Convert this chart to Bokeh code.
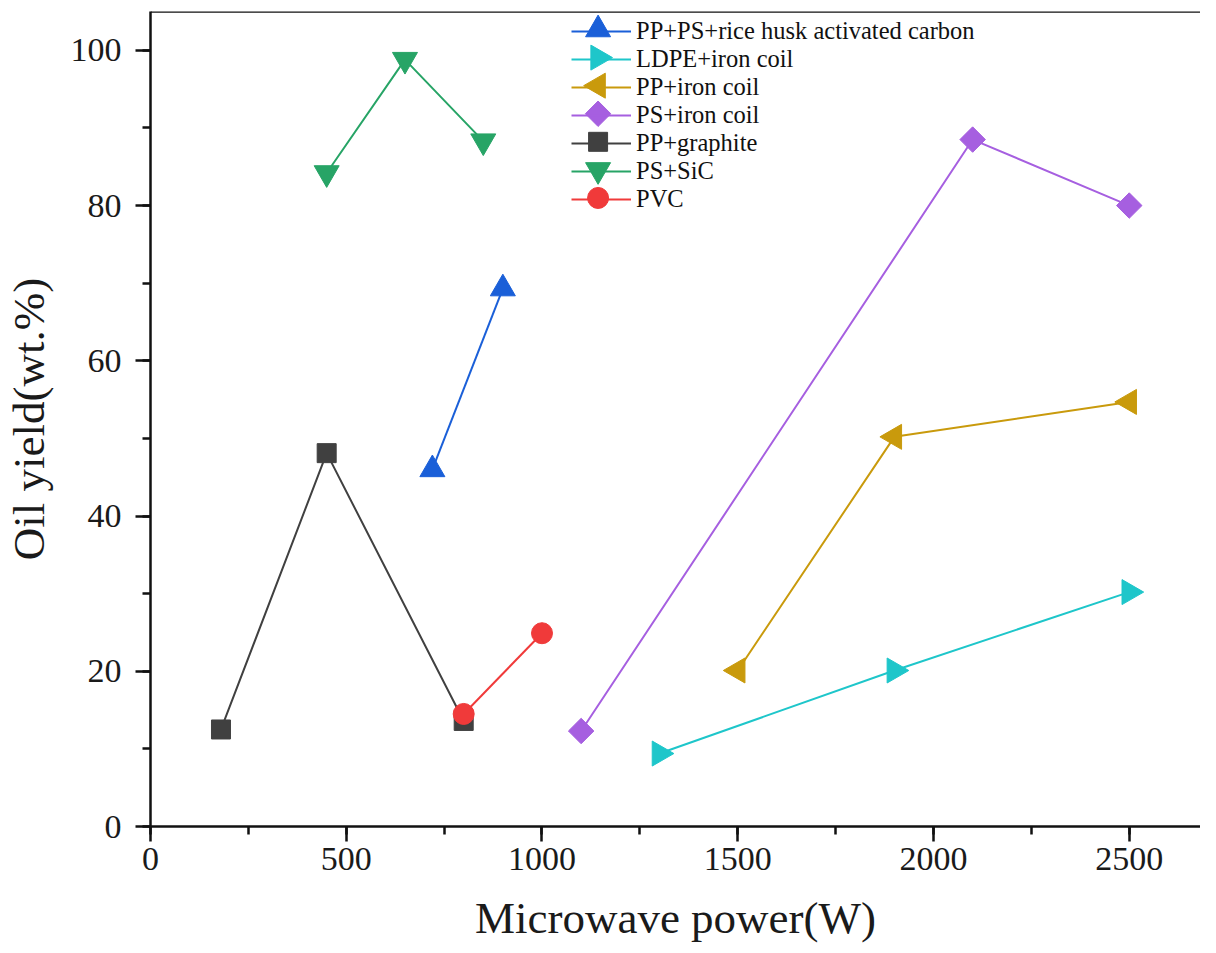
import numpy as np
from bokeh.plotting import figure
from bokeh.models import Range1d, Legend, LegendItem, Span
from bokeh.embed import file_html
from bokeh.resources import INLINE

# ---- data ----
names = ["PP+PS+rice husk activated carbon", "LDPE+iron coil", "PP+iron coil",
         "PS+iron coil", "PP+graphite", "PS+SiC", "PVC"]

rha_x = [720, 900]
rha_y = [46.0, 69.3]

ldpe_x = [1300, 1900, 2500]
ldpe_y = [9.4, 20.1, 30.2]

ppfe_x = [1500, 1900, 2500]
ppfe_y = [20.1, 50.2, 54.7]

psfe_x = [1100, 2100, 2500]
psfe_y = [12.3, 88.5, 80.0]

ppg_x = [180, 450, 800]
ppg_y = [12.5, 48.1, 13.6]

pssic_x = [450, 650, 850]
pssic_y = [84.2, 98.8, 88.3]

pvc_x = [800, 1000]
pvc_y = [14.5, 24.9]

series_x = [rha_x, ldpe_x, ppfe_x, psfe_x, ppg_x, pssic_x, pvc_x]
series_y = [rha_y, ldpe_y, ppfe_y, psfe_y, ppg_y, pssic_y, pvc_y]
colors = ["#1a5fd8", "#1ec6ca", "#c99a0c", "#a65fe0", "#404040", "#27a466", "#f03a3a"]
markers = ["triangle", "triangle", "triangle", "square", "square", "inverted_triangle", "circle"]
angles = [0.0, -np.pi / 2, np.pi / 2, np.pi / 4, 0.0, 0.0, 0.0]
sizes = [25, 25, 25, 18, 19, 25, 21]

FONT = "Liberation Serif"
Y_MAX = 105.0

# layout constants (pixels)
W, H = 1200, 945
BORDER_LEFT, BORDER_TOP = 142, 11
FRAME_W = W - BORDER_LEFT
FRAME_H = 813
LEG_X, LEG_TOP, ROW_H, KEY_W = 421, 4, 28, 60

p = figure(width=W, height=H, output_backend="svg", toolbar_location=None,
           x_range=Range1d(0, 2682), y_range=Range1d(0, Y_MAX),
           min_border_left=BORDER_LEFT, min_border_right=0, min_border_top=BORDER_TOP,
           min_border_bottom=0, background_fill_color="white",
           border_fill_color="white")
p.extra_x_ranges = {"px": Range1d(0, FRAME_W)}
p.extra_y_ranges = {"py": Range1d(0, FRAME_H)}
p.outline_line_color = None
p.xgrid.visible = False
p.ygrid.visible = False

p.xaxis.axis_label = "Microwave power(W)"
p.yaxis.axis_label = "Oil yield(wt.%)"

for ax in (p.xaxis[0], p.yaxis[0]):
    ax.axis_line_width = 2.5
    ax.axis_line_color = "#111111"
    ax.major_tick_line_width = 2.5
    ax.minor_tick_line_width = 2.5
    ax.major_tick_line_color = "#111111"
    ax.minor_tick_line_color = "#111111"
    ax.major_tick_in = 0
    ax.major_tick_out = 15
    ax.minor_tick_in = 0
    ax.minor_tick_out = 8
    ax.major_label_text_font = FONT
    ax.major_label_text_font_size = "34px"
    ax.major_label_text_color = "#1a1a1a"
    ax.axis_label_text_font = FONT
    ax.axis_label_text_font_size = "45px"
    ax.axis_label_text_font_style = "normal"
    ax.axis_label_text_color = "#1a1a1a"

p.xaxis.ticker.desired_num_ticks = 6
p.xaxis[0].ticker.num_minor_ticks = 2
p.yaxis[0].ticker.num_minor_ticks = 2
p.xaxis.major_label_standoff = 6
p.xaxis.axis_label_standoff = 20
p.yaxis.major_label_standoff = 14
p.yaxis.axis_label_standoff = 14

# top frame line (no right border is visible in the reference)
p.add_layout(Span(location=Y_MAX, dimension="width", line_color="#111111", line_width=2.5))

items = []
for name, xs, ys, c, m, a, s in zip(names, series_x, series_y, colors, markers, angles, sizes):
    lr = p.line(xs, ys, line_color=c, line_width=2)
    p.scatter(xs, ys, marker=m, size=s, angle=a, fill_color=c, line_color=c)
    items.append(LegendItem(label=name, renderers=[lr]))

n = len(names)
legend = Legend(items=items, location=(LEG_X, FRAME_H - LEG_TOP - n * ROW_H),
                orientation="vertical", padding=0, margin=0, spacing=0,
                glyph_width=KEY_W, glyph_height=ROW_H, label_height=ROW_H,
                label_standoff=5, label_text_font=FONT, label_text_font_size="24.5px",
                label_text_color="#111111", label_text_baseline="middle",
                border_line_color=None, background_fill_alpha=0)
p.add_layout(legend)

# legend key markers (full size and rotated like the plotted ones)
key_x = [LEG_X + KEY_W / 2] * n
key_y = [FRAME_H - LEG_TOP - ROW_H / 2 - i * ROW_H for i in range(n)]
for i in range(n):
    p.scatter([key_x[i]], [key_y[i]], x_range_name="px", y_range_name="py",
              marker=markers[i], size=sizes[i], angle=angles[i],
              fill_color=colors[i], line_color=colors[i])

open("out.html", "w").write(file_html(p, INLINE))
